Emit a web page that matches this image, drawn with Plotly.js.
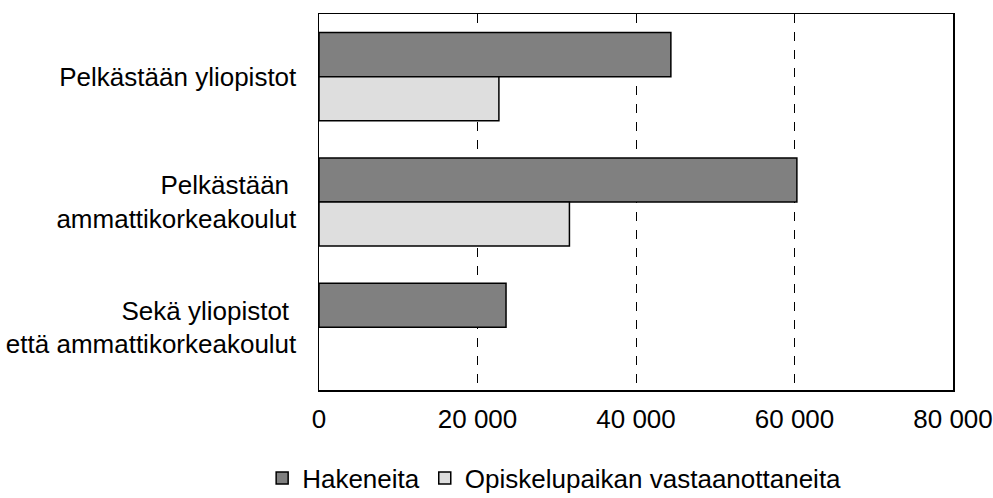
<!DOCTYPE html>
<html>
<head>
<meta charset="utf-8">
<script src="https://cdn.plot.ly/plotly-3.0.1.min.js"></script>
<style>
html,body{margin:0;padding:0;background:#fff;}
#chart{width:993px;height:498px;}
</style>
</head>
<body>
<div id="chart"></div>
<script>
const categories = [
  'Pelkästään yliopistot',
  'Pelkästään\u00a0<br>ammattikorkeakoulut',
  'Sekä yliopistot\u00a0<br>että ammattikorkeakoulut'
];
const seriesNames = ['Hakeneita', 'Opiskelupaikan vastaanottaneita'];
const hakeneita = [44400, 60300, 23600];
const vastaanottaneita = [22700, 31600, null];
const xTickVals = [0, 20000, 40000, 60000, 80000];
const xTickText = ['0', '20 000', '40 000', '60 000', '80 000'];

const font = {family: '"Liberation Sans", Arial, sans-serif', size: 26, color: '#000'};

const traces = [
  {
    type: 'bar', orientation: 'h', name: seriesNames[0],
    y: categories, x: hakeneita,
    marker: {color: '#808080', line: {color: '#000', width: 1.5}}
  },
  {
    type: 'bar', orientation: 'h', name: seriesNames[1],
    y: categories, x: vastaanottaneita,
    marker: {color: '#dedede', line: {color: '#000', width: 1.5}}
  }
];

const layout = {
  width: 993, height: 498,
  margin: {l: 319, r: 40, t: 14, b: 108, pad: 0},
  paper_bgcolor: '#fff', plot_bgcolor: '#fff',
  font: font,
  barmode: 'group', bargap: 0.296, bargroupgap: 0,
  showlegend: true,
  legend: {
    orientation: 'h',
    xref: 'container', x: 0.264, xanchor: 'left',
    yref: 'container', y: 0.04, yanchor: 'middle',
    font: {family: font.family, size: 26, color: '#000'},
    traceorder: 'normal', itemclick: false, bgcolor: 'rgba(0,0,0,0)'
  },
  xaxis: {
    range: [0, 80000], tickvals: xTickVals, ticktext: xTickText,
    showgrid: true, gridcolor: '#000', gridwidth: 1, griddash: 'dash',
    showline: true, linecolor: '#000', linewidth: 1.5, mirror: true,
    zeroline: false, ticks: '', ticklabelstandoff: 5,
    tickfont: font
  },
  yaxis: {
    type: 'category', autorange: 'reversed',
    showgrid: false, showline: true, linecolor: '#000', linewidth: 1.5, mirror: true,
    zeroline: false, ticks: '', ticklabelstandoff: 16,
    tickfont: font
  }
};

Plotly.newPlot('chart', traces, layout, {displayModeBar: false, staticPlot: true});
</script>
</body>
</html>
